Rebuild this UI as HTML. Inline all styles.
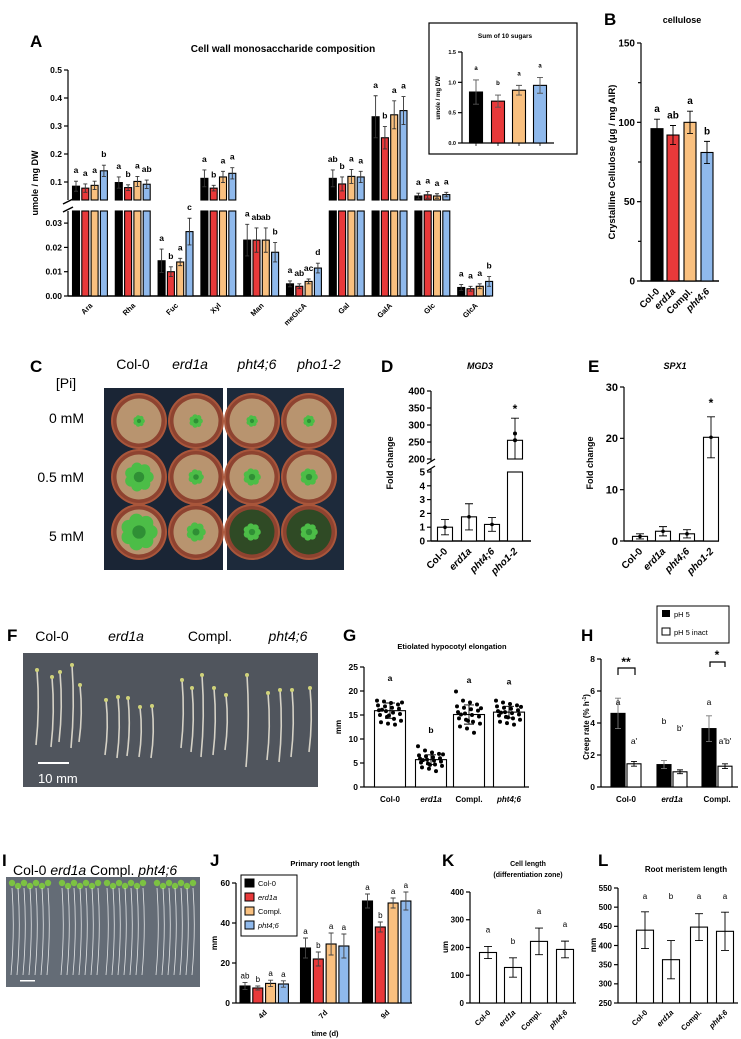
<!DOCTYPE html>
<html><head><meta charset="utf-8">
<style>
html,body{margin:0;padding:0;background:#fff;}
svg{display:block;font-family:"Liberation Sans",sans-serif;}
.b{font-weight:bold;}
</style></head>
<body>
<svg id="fig" width="741" height="1039" viewBox="0 0 741 1039">
<rect x="0" y="0" width="741" height="1039" fill="#fff"/>
<text x="30" y="47" font-size="17" class="b">A</text>
<text x="604" y="25" font-size="17" class="b">B</text>
<text x="30" y="372" font-size="17" class="b">C</text>
<text x="381" y="372" font-size="17" class="b">D</text>
<text x="588" y="372" font-size="17" class="b">E</text>
<text x="7" y="641" font-size="17" class="b">F</text>
<text x="343" y="641" font-size="17" class="b">G</text>
<text x="581" y="641" font-size="17" class="b">H</text>
<text x="2" y="866" font-size="17" class="b">I</text>
<text x="210" y="866" font-size="17" class="b">J</text>
<text x="442" y="866" font-size="17" class="b">K</text>
<text x="598" y="866" font-size="17" class="b">L</text>
<text x="283" y="52" font-size="10" class="b" text-anchor="middle">Cell wall monosaccharide composition</text>
<rect x="429" y="23" width="148" height="131" fill="none" stroke="#000" stroke-width="1.2"/>
<text x="505" y="38" font-size="6.5" class="b" text-anchor="middle">Sum of 10 sugars</text>
<text x="440" y="98" font-size="6" class="b" text-anchor="middle" transform="rotate(-90 440 98)">umole / mg DW</text>
<text x="38" y="183" font-size="9" class="b" text-anchor="middle" transform="rotate(-90 38 183)">umole / mg DW</text>
<text x="682" y="23" font-size="9" class="b" text-anchor="middle">cellulose</text>
<text x="615" y="162" font-size="9.5" class="b" text-anchor="middle" transform="rotate(-90 615 162)">Crystalline Cellulose (μg  / mg AIR)</text>
<text x="480" y="369" font-size="9" class="b" font-style="italic" text-anchor="middle">MGD3</text>
<text x="393" y="463" font-size="9" class="b" text-anchor="middle" transform="rotate(-90 393 463)">Fold change</text>
<text x="675" y="369" font-size="9" class="b" font-style="italic" text-anchor="middle">SPX1</text>
<text x="593" y="463" font-size="9" class="b" text-anchor="middle" transform="rotate(-90 593 463)">Fold change</text>
<text x="452" y="649" font-size="7.5" class="b" text-anchor="middle">Etiolated hypocotyl elongation</text>
<text x="341" y="727" font-size="8" class="b" text-anchor="middle" transform="rotate(-90 341 727)">mm</text>
<text x="589" y="727" font-size="8" class="b" text-anchor="middle" transform="rotate(-90 589 727)">Creep rate (% h<tspan font-size="5" dy="-3">-1</tspan><tspan dy="3">)</tspan></text>
<text x="325" y="866" font-size="7.5" class="b" text-anchor="middle">Primary root length</text>
<text x="217" y="943" font-size="8" class="b" text-anchor="middle" transform="rotate(-90 217 943)">mm</text>
<text x="325" y="1036" font-size="7.5" class="b" text-anchor="middle">time (d)</text>
<text x="528" y="866" font-size="7" class="b" text-anchor="middle">Cell length</text>
<text x="528" y="877" font-size="7" class="b" text-anchor="middle">(differentiation zone)</text>
<text x="448" y="947" font-size="8" class="b" text-anchor="middle" transform="rotate(-90 448 947)">um</text>
<text x="686" y="872" font-size="8" class="b" text-anchor="middle">Root meristem length</text>
<text x="596" y="945" font-size="8" class="b" text-anchor="middle" transform="rotate(-90 596 945)">mm</text>
<text x="133" y="369" font-size="14" text-anchor="middle">Col-0</text>
<text x="190" y="369" font-size="14" font-style="italic" text-anchor="middle">erd1a</text>
<text x="257" y="369" font-size="14" font-style="italic" text-anchor="middle">pht4;6</text>
<text x="319" y="369" font-size="14" font-style="italic" text-anchor="middle">pho1-2</text>
<text x="66" y="388" font-size="14" text-anchor="middle">[Pi]</text>
<text x="84" y="423" font-size="14" text-anchor="end">0 mM</text>
<text x="84" y="482" font-size="14" text-anchor="end">0.5 mM</text>
<text x="84" y="541" font-size="14" text-anchor="end">5 mM</text>
<text x="52" y="641" font-size="14" text-anchor="middle">Col-0</text>
<text x="126" y="641" font-size="14" font-style="italic" text-anchor="middle">erd1a</text>
<text x="210" y="641" font-size="14" text-anchor="middle">Compl.</text>
<text x="288" y="641" font-size="14" font-style="italic" text-anchor="middle">pht4;6</text>
<text x="13" y="875" font-size="14">Col-0 <tspan font-style="italic">erd1a</tspan> Compl. <tspan font-style="italic">pht4;6</tspan></text>
<rect x="657" y="606" width="72" height="37" fill="#fff" stroke="#000"/>
<rect x="662" y="610" width="8" height="7" fill="#000"/>
<text x="674" y="617" font-size="7.5">pH 5</text>
<rect x="662" y="628" width="8" height="7" fill="#fff" stroke="#000"/>
<text x="674" y="635" font-size="7.5">pH 5 inact</text>
<rect x="241" y="875" width="56" height="61" fill="#fff" stroke="#000"/>
<rect x="245" y="879" width="9" height="8" fill="#000" stroke="#000"/>
<text x="258" y="886" font-size="7.5">Col-0</text>
<rect x="245" y="893" width="9" height="8" fill="#e8393a" stroke="#000"/>
<text x="258" y="900" font-size="7.5" font-style="italic">erd1a</text>
<rect x="245" y="907" width="9" height="8" fill="#f9c07f" stroke="#000"/>
<text x="258" y="914" font-size="7.5">Compl.</text>
<rect x="245" y="921" width="9" height="8" fill="#8fb9ec" stroke="#000"/>
<text x="258" y="928" font-size="7.5" font-style="italic">pht4;6</text>
</svg>
<script>
// ---------- DATA ----------
const genotypes4 = ['Col-0','erd1a','Compl.','pht4;6'];
const genoItalic = [false,true,false,true];
const sugars = ['Ara','Rha','Fuc','Xyl','Man','meGlcA','Gal','GalA','Glc','GlcA'];
const aCol0  = [0.085,0.098,0.0145,0.113,0.023,0.005,0.113,0.333,0.050,0.0035];
const aErd1a = [0.078,0.080,0.0100,0.078,0.023,0.004,0.093,0.258,0.054,0.0030];
const aCompl = [0.088,0.102,0.0140,0.118,0.023,0.006,0.120,0.340,0.050,0.0040];
const aPht46 = [0.140,0.092,0.0265,0.131,0.018,0.0115,0.118,0.355,0.055,0.0060];
const aErrCol0  = [0.018,0.020,0.0048,0.030,0.0065,0.0012,0.030,0.075,0.010,0.0012];
const aErrErd1a = [0.015,0.010,0.0020,0.010,0.0050,0.0010,0.025,0.040,0.012,0.0010];
const aErrCompl = [0.015,0.018,0.0015,0.020,0.0050,0.0010,0.025,0.050,0.008,0.0010];
const aErrPht46 = [0.020,0.015,0.0055,0.020,0.0040,0.0020,0.020,0.050,0.008,0.0020];
const aLetters = [['a','a','a','b'],['a','b','a','ab'],['a','b','a','c'],['a','b','a','a'],['a','ab','ab','b'],['a','ab','ac','d'],['ab','b','a','a'],['a','b','a','a'],['a','a','a','a'],['a','a','a','b']];
const aTicksUpper = [0.1,0.2,0.3,0.4,0.5];
const aTicksLower = [0,0.01,0.02,0.03];
const aTickLowerLabels = ['0.00','0.01','0.02','0.03'];

const insetValues = [0.84,0.69,0.87,0.95];
const insetErr = [0.20,0.10,0.08,0.13];
const insetLetters = ['a','b','a','a'];
const insetTicks = [0,0.5,1.0,1.5];
const insetTickLabels = ['0.0','0.5','1.0','1.5'];

const bValues = [96,92,100,81];
const bErr = [6,6,7,7];
const bLetters = ['a','ab','a','b'];
const bTicks = [0,50,100,150];

const deGenotypes = ['Col-0','erd1a','pht4;6','pho1-2'];
const dValues = [1.0,1.75,1.2,255];
const dErr = [0.55,0.95,0.5,65];
const dTicksLower = [0,1,2,3,4,5];
const dTicksUpper = [200,250,300,350,400];
const eValues = [0.9,1.9,1.4,20.2];
const eErr = [0.5,0.9,0.8,4.0];
const eTicks = [0,10,20,30];

const gValues = [15.9,5.7,15.1,15.6];
const gErr = [1.6,1.0,2.0,1.2];
const gLetters = ['a','b','a','a'];
const gTicks = [0,5,10,15,20,25];
const gDotsCol0 = [18,17.8,17.5,17.2,17,16.8,16.5,16.3,16,15.8,15.5,15.2,15,14.6,14.2,13.8,13.5,13.2,13,17.6,16.1,14.9];
const gDotsErd1a = [8.5,7.6,7.2,6.9,6.6,6.4,6.2,6,5.9,5.7,5.5,5.3,5.1,4.9,4.7,4.4,4.1,3.8,3.3,6.8,5.6,4.6];
const gDotsCompl = [19.9,18,17.6,17.2,16.8,16.5,16.2,15.9,15.6,15.3,15,14.7,14.3,14,13.6,13.2,12.6,12.2,11.3,16.4,15.1,13.8];
const gDotsPht46 = [18,17.6,17.3,17,16.8,16.5,16.3,16,15.8,15.6,15.4,15.1,14.9,14.6,14.3,14,13.6,13.3,13,16.7,15.5,14.5];

const hGroups = ['Col-0','erd1a','Compl.'];
const hPh5 = [4.6,1.4,3.65];
const hPh5Err = [0.95,0.25,0.8];
const hInact = [1.45,0.95,1.3];
const hInactErr = [0.15,0.12,0.15];
const hLettersPh5 = ['a','b','a'];
const hLettersInact = ["a'","b'","a'b'"];
const hTicks = [0,2,4,6,8];

const jDays = ['4d','7d','9d'];
const jCol0 = [8.5,27.5,51];
const jErd1a = [7.5,22,38];
const jCompl = [9.8,29.5,50];
const jPht46 = [9.5,28.5,51];
const jErrCol0 = [1.8,5,3.5];
const jErrErd1a = [1,3.5,2.5];
const jErrCompl = [1.6,5.5,2.5];
const jErrPht46 = [1.6,6,4.5];
const jLetters = [['ab','b','a','a'],['a','b','a','a'],['a','b','a','a']];
const jTicks = [0,20,40,60];

const kValues = [182,128,222,193];
const kErr = [22,35,48,30];
const kLetters = ['a','b','a','a'];
const kTicks = [0,100,200,300,400];
const lValues = [440,363,448,437];
const lErr = [48,50,35,50];
const lLetters = ['a','b','a','a'];
const lTicks = [250,300,350,400,450,500,550];

// ---------- HELPERS ----------
const svg = document.getElementById('fig');
const NS = 'http://www.w3.org/2000/svg';
const COLORS = ['#000000','#e8393a','#f9c07f','#8fb9ec'];
function mk(tag, attrs) {
  const e = document.createElementNS(NS, tag);
  for (const k in attrs) e.setAttribute(k, attrs[k]);
  svg.appendChild(e);
  return e;
}
function lin(d0, d1, r0, r1) { return v => r0 + (v - d0) * (r1 - r0) / (d1 - d0); }
function line(x1, y1, x2, y2, name, w) {
  const e = mk('line', {x1:x1, y1:y1, x2:x2, y2:y2, stroke:'#000', 'stroke-width': w || 1.2});
  
  
  return e;
}
function text(x, y, s, size, name, anchor, italic, bold, rot) {
  const e = mk('text', {x:x, y:y, 'font-size':size, 'text-anchor':anchor || 'middle'});
  if (bold !== false) e.setAttribute('font-weight', 'bold');
  if (italic) e.setAttribute('font-style', 'italic');
  if (rot) e.setAttribute('transform', 'rotate(' + rot + ' ' + x + ' ' + y + ')');
  e.textContent = s;
  
  
  return e;
}
function bar(cx, w, y0, y1, fill, name) {
  const e = mk('rect', {x:cx - w/2, y:Math.min(y0,y1), width:w, height:Math.abs(y1-y0), fill:fill, stroke:'#000', 'stroke-width':1.1});
  
  
  return e;
}
function err(cx, yHi, yLo, cap, name, color) {
  const p = mk('path', {d:'M'+cx+' '+yHi+'V'+yLo+'M'+(cx-cap)+' '+yHi+'H'+(cx+cap)+'M'+(cx-cap)+' '+yLo+'H'+(cx+cap), stroke:color || '#000', 'stroke-width':0.9, fill:'none'});
  
  
  return p;
}
function dot(x, y, r, fill, name) {
  const c = mk('circle', {cx:x, cy:y, r:r, fill:fill});
  
  
  return c;
}
function yAxis(x, sc, ticks, labels, yTop, yBot, fs, name) {
  line(x, yTop, x, yBot, name + '-line');
  ticks.forEach((t, i) => {
    const y = sc(t);
    line(x - 4, y, x, y, name + '-tick');
    text(x - 6, y + fs*0.35, labels ? labels[i] : String(t), fs, name + '-tick-label', 'end');
  });
}
function rotLabels(xs, y, labels, italics, fs, name) {
  xs.forEach((x, i) => text(x + 3, y, labels[i], fs, name, 'end', italics[i], true, -45));
}

// ---------- PANEL A ----------
const yAL = lin(0, 0.03, 296, 223.1);
const yAU = lin(0.1, 0.5, 182, 70);
const aSeries = [aCol0, aErd1a, aCompl, aPht46];
const aErrs = [aErrCol0, aErrErd1a, aErrCompl, aErrPht46];
line(68, 70, 68, 200, 'y-axis-a-upper');
line(68, 211, 68, 296, 'y-axis-a-lower');
aTicksUpper.forEach(t => { line(64, yAU(t), 68, yAU(t), 'y-tick-a'); text(62, yAU(t)+3, String(t), 8.5, 'y-tick-label-a', 'end'); });
aTicksLower.forEach((t, i) => { line(64, yAL(t), 68, yAL(t), 'y-tick-a'); text(62, yAL(t)+3, aTickLowerLabels[i], 8.5, 'y-tick-label-a', 'end'); });
line(63, 204, 73, 199, 'axis-break-a', 1.5);
line(63, 212, 73, 207, 'axis-break-a', 1.5);
line(68, 296, 490, 296, 'x-axis-a', 1.4);
const aXs = [];
sugars.forEach((s, gi) => {
  const gc = 90 + gi * 42.8;
  aXs.push(gc);
  aSeries.forEach((ser, si) => {
    const v = ser[gi], e = aErrs[si][gi];
    const cx = gc - 14 + si * 9.3;
    if (v > 0.035) {
      bar(cx, 7, 296, 211, COLORS[si], 'bar-a-' + s + '-lower');
      bar(cx, 7, 200, yAU(v), COLORS[si], 'bar-a-' + s);
      err(cx, yAU(v + e), Math.min(200, yAU(v - e)), 2, 'error-bar-a', '#333');
      text(cx, yAU(v + e) - 8, aLetters[gi][si], 8.5, 'letter-a');
    } else {
      bar(cx, 7, 296, yAL(v), COLORS[si], 'bar-a-' + s);
      err(cx, yAL(v + e), yAL(Math.max(0, v - e)), 2, 'error-bar-a', '#333');
      text(cx, yAL(v + e) - 8, aLetters[gi][si], 8.5, 'letter-a');
    }
  });
});
rotLabels(aXs, 306, sugars, sugars.map(()=>false), 7.5, 'x-label-a');

// ---------- INSET ----------
const yIn = lin(0, 1.5, 143, 52);
yAxis(462, yIn, insetTicks, insetTickLabels, 52, 143, 5.5, 'y-axis-inset');
line(462, 143, 554, 143, 'x-axis-inset');
const inX = [476, 498, 519, 540];
insetValues.forEach((v, i) => {
  bar(inX[i], 13, 143, yIn(v), COLORS[i], 'bar-inset-' + genotypes4[i]);
  err(inX[i], yIn(v + insetErr[i]), yIn(v - insetErr[i]), 3, 'error-bar-inset', '#555');
  line(inX[i], 143, inX[i], 146, 'x-tick-inset', 0.8);
  text(inX[i], yIn(v + insetErr[i]) - 10, insetLetters[i], 6, 'letter-inset');
});

// ---------- PANEL B ----------
const yB = lin(0, 150, 281, 43);
yAxis(641, yB, bTicks, null, 43, 281, 10, 'y-axis-b');
[25,75,125].forEach(t => line(638, yB(t), 641, yB(t), 'y-minor-tick-b'));
line(641, 281, 719, 281, 'x-axis-b', 1.4);
const bX = [657, 673, 690, 707];
bValues.forEach((v, i) => {
  bar(bX[i], 12, 281, yB(v), COLORS[i], 'bar-b-' + genotypes4[i]);
  err(bX[i], yB(v + bErr[i]), yB(v - bErr[i]), 3, 'error-bar-b');
  text(bX[i], yB(v + bErr[i]) - 7, bLetters[i], 10, 'letter-b');
});
rotLabels(bX, 292, genotypes4, genoItalic, 9.5, 'x-label-b');

// ---------- PANEL C (photo) ----------
(function(){
  const r1 = mk('rect', {x:104, y:388, width:119, height:182, fill:'#1a2535'});
  
  
  const r2 = mk('rect', {x:227, y:388, width:117, height:182, fill:'#1d2a3b'});
  
  
  const px = [139, 196, 252, 309], py = [421, 477, 532];
  const plant = [[6,7,6,6],[15,8,9,9],[19,10,9,9]];
  py.forEach((y, ri) => px.forEach((x, ci) => {
    dot(x, y, 28, '#a9563b', 'pot');
    dot(x, y, 26, '#8e4330', 'pot-rim');
    const soil = (ri === 2 && ci >= 2) ? '#2f4a25' : '#b8946f';
    dot(x, y, 22.5, soil, 'pot-soil');
    const n = 7, R = plant[ri][ci];
    for (let k = 0; k < n; k++) {
      const a = k * 2 * Math.PI / n;
      dot(x + Math.cos(a) * R * 0.6, y + Math.sin(a) * R * 0.6, R * 0.38, '#4cbd47', 'plant-leaf');
    }
    dot(x, y, R * 0.35, '#2f8f35', 'plant-center');
  }));
})();

// ---------- PANEL D ----------
const yDL = lin(0, 5, 541, 472);
const yDU = lin(200, 400, 459, 391);
line(431, 391, 431, 462, 'y-axis-d-upper');
line(431, 469, 431, 541, 'y-axis-d-lower');
dTicksUpper.forEach(t => { line(427, yDU(t), 431, yDU(t), 'y-tick-d'); text(425, yDU(t)+3.5, String(t), 10, 'y-tick-label-d', 'end'); });
dTicksLower.forEach(t => { line(427, yDL(t), 431, yDL(t), 'y-tick-d'); text(425, yDL(t)+3.5, String(t), 10, 'y-tick-label-d', 'end'); });
line(427, 464, 435, 459, 'axis-break-d', 1.3);
line(427, 471, 435, 466, 'axis-break-d', 1.3);
line(431, 541, 531, 541, 'x-axis-d', 1.4);
const dX = [445, 469, 492, 515];
dValues.forEach((v, i) => {
  if (v > 5) {
    bar(dX[i], 15, 541, 472, '#fff', 'bar-d-' + deGenotypes[i] + '-lower');
    bar(dX[i], 15, 459, yDU(v), '#fff', 'bar-d-' + deGenotypes[i]);
    err(dX[i], yDU(v + dErr[i]), 459, 4, 'error-bar-d');
    dot(dX[i], yDU(v), 2, '#000', 'point-d');
    dot(dX[i], yDU(v + 20), 2, '#000', 'point-d');
    text(dX[i], yDU(v + dErr[i]) - 5, '*', 12, 'significance-d');
  } else {
    bar(dX[i], 15, 541, yDL(v), '#fff', 'bar-d-' + deGenotypes[i]);
    err(dX[i], yDL(v + dErr[i]), yDL(Math.max(0, v - dErr[i])), 4, 'error-bar-d');
    dot(dX[i], yDL(v), 1.8, '#000', 'point-d');
  }
});
rotLabels(dX, 552, deGenotypes, [false,true,true,true], 10, 'x-label-d');

// ---------- PANEL E ----------
const yE = lin(0, 30, 541, 387);
yAxis(624, yE, eTicks, null, 387, 541, 11, 'y-axis-e');
line(624, 541, 719, 541, 'x-axis-e', 1.4);
const eX = [640, 663, 687, 711];
eValues.forEach((v, i) => {
  bar(eX[i], 15, 541, yE(v), '#fff', 'bar-e-' + deGenotypes[i]);
  err(eX[i], yE(v + eErr[i]), yE(Math.max(0, v - eErr[i])), 4, 'error-bar-e');
  dot(eX[i], yE(v), 1.8, '#000', 'point-e');
});
text(eX[3], yE(eValues[3] + eErr[3]) - 10, '*', 12, 'significance-e');
rotLabels(eX, 552, deGenotypes, [false,true,true,true], 10, 'x-label-e');

// ---------- PANEL F (photo) ----------
(function(){
  const r = mk('rect', {x:23, y:653, width:295, height:134, fill:'#50555d'});
  
  
  const stems = [[37,670,745],[52,677,747],[60,672,742],[72,665,748],[80,685,742],
                 [106,700,755],[118,697,758],[128,698,756],[140,707,757],[152,706,758],
                 [182,680,748],[192,688,752],[202,675,757],[214,688,755],[226,695,750],
                 [247,675,767],[268,693,760],[280,690,762],[292,690,757],[310,688,752]];
  stems.forEach(s => {
    const p = mk('path', {d:'M'+s[0]+' '+s[1]+' Q'+(s[0]+3)+' '+((s[1]+s[2])/2)+' '+(s[0]-1)+' '+s[2], stroke:'#d6d2c6', 'stroke-width':1.6, fill:'none'});
    
    
    dot(s[0], s[1], 2, '#cfd27a', 'cotyledon');
  });
  const sb = mk('rect', {x:38, y:762, width:31, height:2, fill:'#fff'});
  
  
  text(38, 783, '10 mm', 13, 'scale-label-f', 'start', false, false).setAttribute('fill', '#fff');
})();

// ---------- PANEL G ----------
const yG = lin(0, 25, 787, 667);
yAxis(364, yG, gTicks, null, 667, 787, 8.5, 'y-axis-g');
line(364, 787, 529, 787, 'x-axis-g', 1.3);
const gX = [390, 431, 469, 509];
const gDots = [gDotsCol0, gDotsErd1a, gDotsCompl, gDotsPht46];
gValues.forEach((v, i) => {
  bar(gX[i], 31, 787, yG(v), '#fff', 'bar-g-' + genotypes4[i]);
  gDots[i].forEach((d, k) => dot(gX[i] - 13 + (k * 7) % 27, yG(d), 2, '#000', 'point-g'));
  err(gX[i], yG(v + gErr[i]), yG(v - gErr[i]), 5, 'error-bar-g');
  text(gX[i], yG(v + gErr[i]) - 22, gLetters[i], 8.5, 'letter-g');
  text(gX[i], 802, genotypes4[i], 8, 'x-label-g', 'middle', genoItalic[i]);
});

// ---------- PANEL H ----------
const yH = lin(0, 8, 787, 659);
yAxis(601, yH, hTicks, null, 659, 787, 8.5, 'y-axis-h');
line(601, 787, 738, 787, 'x-axis-h', 1.3);
const hX = [626, 672, 717];
hGroups.forEach((g, i) => {
  const x1 = hX[i] - 8, x2 = hX[i] + 8;
  bar(x1, 14, 787, yH(hPh5[i]), '#000', 'bar-h-ph5-' + g);
  err(x1, yH(hPh5[i] + hPh5Err[i]), yH(hPh5[i] - hPh5Err[i]), 3, 'error-bar-h', '#777');
  bar(x2, 14, 787, yH(hInact[i]), '#fff', 'bar-h-inact-' + g);
  err(x2, yH(hInact[i] + hInactErr[i]), yH(hInact[i] - hInactErr[i]), 3, 'error-bar-h');
  text(x1, i === 1 ? 724 : 705, hLettersPh5[i], 8.5, 'letter-h', 'middle', false, false);
  text(x2, i === 1 ? 731 : 744, hLettersInact[i], 8.5, 'letter-h', 'middle', false, false);
  text(hX[i], 802, g, 8, 'x-label-h', 'middle', i === 1);
});
const br1 = mk('path', {d:'M618 675V668H635V675', stroke:'#000', 'stroke-width':1.2, fill:'none'});


text(626, 666, '**', 12, 'significance-h');
const br2 = mk('path', {d:'M710 667V662H725V667', stroke:'#000', 'stroke-width':1.2, fill:'none'});


text(717, 659, '*', 12, 'significance-h');

// ---------- PANEL I (photo) ----------
(function(){
  const r = mk('rect', {x:6, y:877, width:194, height:110, fill:'#646c76'});
  
  
  const gx = [30, 80, 125, 175];
  gx.forEach(c => {
    for (let k = 0; k < 7; k++) {
      dot(c - 18 + k * 6, 883 + (k % 2) * 3, 3.2, '#7cc242', 'rosette');
      const p = mk('path', {d:'M'+(c-18+k*6)+' 888 Q'+(c-15+k*6)+' 930 '+(c-19+k*6)+' 975', stroke:'#e4e6e8', 'stroke-width':0.8, fill:'none'});
      
      
    }
  });
  const sb = mk('rect', {x:20, y:980, width:15, height:1.5, fill:'#fff'});
  
  
})();

// ---------- PANEL J ----------
const yJ = lin(0, 60, 1003, 883);
yAxis(236, yJ, jTicks, null, 883, 1003, 8.5, 'y-axis-j');
line(236, 1003, 412, 1003, 'x-axis-j', 1.3);
const jSeries = [jCol0, jErd1a, jCompl, jPht46];
const jErrs = [jErrCol0, jErrErd1a, jErrCompl, jErrPht46];
const jX = [264.5, 325, 387];
jDays.forEach((d, gi) => {
  jSeries.forEach((ser, si) => {
    const cx = jX[gi] - 19.5 + si * 12.8;
    const v = ser[gi], e = jErrs[si][gi];
    bar(cx, 10, 1003, yJ(v), COLORS[si], 'bar-j-' + d);
    err(cx, yJ(v + e), yJ(v - e), 2.5, 'error-bar-j', '#444');
    text(cx, yJ(v + e) - 4, jLetters[gi][si], 8, 'letter-j', 'middle', false, false);
  });
});
rotLabels(jX, 1013, jDays, [false,false,false], 7.5, 'x-label-j');

// ---------- PANEL K ----------
const yK = lin(0, 400, 1003, 892);
yAxis(470, yK, kTicks, null, 892, 1003, 8, 'y-axis-k');
line(470, 1003, 576, 1003, 'x-axis-k', 1.3);
const kX = [488, 513, 539, 565];
kValues.forEach((v, i) => {
  bar(kX[i], 17, 1003, yK(v), '#fff', 'bar-k-' + genotypes4[i]);
  err(kX[i], yK(v + kErr[i]), yK(v - kErr[i]), 4, 'error-bar-k');
  text(kX[i], yK(v + kErr[i]) - 14, kLetters[i], 8, 'letter-k', 'middle', false, false);
});
rotLabels(kX, 1013, genotypes4, genoItalic, 7.5, 'x-label-k');

// ---------- PANEL L ----------
const yL = lin(250, 550, 1003, 888);
yAxis(618, yL, lTicks, null, 888, 1003, 8, 'y-axis-l');
line(618, 1003, 738, 1003, 'x-axis-l', 1.3);
const lX = [645, 671, 699, 725];
lValues.forEach((v, i) => {
  bar(lX[i], 17, 1003, yL(v), '#fff', 'bar-l-' + genotypes4[i]);
  err(lX[i], yL(v + lErr[i]), yL(v - lErr[i]), 4, 'error-bar-l');
  text(lX[i], 899, lLetters[i], 8, 'letter-l', 'middle', false, false);
});
rotLabels(lX, 1013, genotypes4, genoItalic, 7.5, 'x-label-l');
</script>
</body></html>
